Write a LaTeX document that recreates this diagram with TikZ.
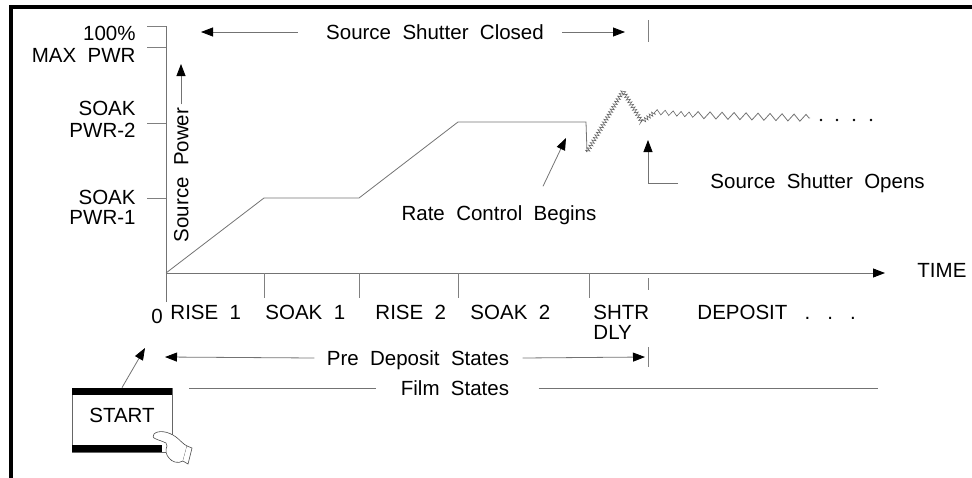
\documentclass[tikz,border=0pt]{standalone}
\usepackage{fontspec}
\setmainfont{Liberation Sans}
\usetikzlibrary{%
  arrows.meta,%
  decorations.pathmorphing,%
  positioning%
}

\begin{document}
\begin{tikzpicture}[
  x=1pt, y=-1pt,
  font=\fontsize{20.5}{21}\selectfont,
  >={Triangle[length=12pt,width=9pt,color=black]},
  line width=0.9pt,
  axis/.style={draw=black!55, line width=0.9pt},
  tickmark/.style={draw=black!50, line width=0.9pt},
  trace/.style={draw=black!55, line width=0.8pt},
  noisy/.style={draw=black!60, line width=0.6pt, decorate},
  lbl/.style={inner sep=0pt, text height=14.5pt, text depth=0pt},
  startbox/.style={rectangle, draw=black!60, line width=0.8pt, minimum width=100pt, minimum height=64pt, inner sep=0pt},
  hand/.style={draw=black!70, fill=white, line width=0.6pt}
]

\useasboundingbox (0,0) rectangle (972,477);
\draw[line width=3.5pt] (11,480) -- (11,7) -- (975,7);

\coordinate (O) at (166,273);
\draw[axis] (166,302) -- (166,26);
\draw[axis,->] (O) -- (885,273);
\node[lbl, anchor=west] (time) at (917,270) {TIME};

\foreach \y in {26,47,123,198} {
  \draw[tickmark] (147,\y) -- (166,\y);
}
\foreach \x in {264,359,458,589} {
  \draw[tickmark] (\x,273) -- (\x,298);
}
\draw[tickmark] (648,278) -- (648,290);
\draw[tickmark] (648,20) -- (648,42);
\draw[tickmark] (648,347) -- (648,367);

\node[lbl, anchor=east] (p100) at (136,33) {100\%};
\node[lbl, anchor=east] (pmax) at (136,55) {MAX~~PWR};
\node[lbl, anchor=east] (soak2a) at (136,108) {SOAK};
\node[lbl, anchor=east] (soak2b) at (136,130) {PWR-2};
\node[lbl, anchor=east] (soak1a) at (136,197) {SOAK};
\node[lbl, anchor=east] (soak1b) at (136,217) {PWR-1};

\node[lbl, rotate=90] (spwr) at (181,175) {Source~~Power};
\coordinate (spwrtip) at (181,64);
\draw[trace,->] ([yshift=3pt]spwr.east) -- (spwrtip);

\node[lbl] (ssc) at (435,32) {Source~~Shutter~~Closed};
\coordinate (sscL) at (201,32);
\coordinate (sscR) at (625,32);
\draw[trace,->] ([xshift=-28pt]ssc.west) -- (sscL);
\draw[trace,->] ([xshift=18pt]ssc.east) -- (sscR);

\draw[trace] (O) -- (264,198) -- (359,198) -- (458,122) -- (586,122) -- (587,152);
\draw[noisy, decoration={zigzag, segment length=3pt, amplitude=2pt}]
  (587,152) -- (623,91) -- (642,122) -- (655,112);
\draw[noisy, decoration={zigzag, segment length=8pt, amplitude=2.5pt}]
  (655,112) -- (695,115);
\draw[trace, decorate, decoration={zigzag, segment length=12pt, amplitude=3.5pt}]
  (695,115) -- (810,118);
\foreach \x in {821,837,854,871} {
  \fill (\x,120) circle (1.3pt);
}

\node[lbl] (rcb) at (499,213) {Rate~~Control~~Begins};
\coordinate (rcbtip) at (566,138);
\draw[trace,->] ([xshift=44pt, yshift=19pt]rcb.north) -- (rcbtip);

\node[lbl, anchor=west] (sso) at (710,181) {Source~~Shutter~~Opens};
\coordinate (ssocorner) at (648,183);
\coordinate (ssotip) at (648,140);
\draw[trace,->] ([xshift=-32pt, yshift=-2pt]sso.west) -- (ssocorner) -- (ssotip);

\node[lbl] (zero) at (157,316) {0};
\foreach \x/\name/\txt in {170/rise1/RISE~~1, 265/soak1/SOAK~~1, 375/rise2/RISE~~2, 470/soak2/SOAK~~2, 697/dep/DEPOSIT~~~.~~~.~~~.} {
  \node[lbl, anchor=west] (\name) at (\x,312) {\txt};
}
\node[lbl, anchor=west] (shtr) at (593,312) {SHTR};
\node[lbl, anchor=west] (dly) at (593,332) {DLY};

\node[lbl] (pds) at (418,358) {Pre~~Deposit~~States};
\coordinate (pdsL) at (165,357);
\coordinate (pdsR) at (645,357);
\draw[trace,->] ([xshift=-12pt]pds.west) -- (pdsL);
\draw[trace,->] ([xshift=13pt]pds.east) -- (pdsR);

\node[lbl] (fs) at (455,388) {Film~~States};
\coordinate (fsL) at (189,388);
\coordinate (fsR) at (878,388);
\draw[trace] (fsL) -- ([xshift=-24pt]fs.west);
\draw[trace] ([xshift=29pt]fs.east) -- (fsR);

\node[startbox] (start) at (122,420) {};
\node[lbl] (starttxt) at ([yshift=5pt]start.center) {START};
\fill (start.north west) rectangle ([yshift=-7pt]start.north east);
\fill (start.south west) rectangle ([xshift=-10pt, yshift=7pt]start.south east);
\coordinate (starttip) at (145,348);
\draw[trace,->] (start.north) -- (starttip);

\draw[hand] (154,434) .. controls (158,430) and (168,431) .. (176,437)
  .. controls (180,440) and (183,444) .. (187,446) -- (183,461)
  .. controls (178,464) and (172,462) .. (169,458)
  .. controls (166,455) and (165,450) .. (167,446)
  -- (166,443) .. controls (162,441) and (158,440) .. (156,439)
  .. controls (153,438) and (152,436) .. (154,434) -- cycle;
\draw[hand] (187,446) -- (192,448) -- (188,464) -- (183,461);

\end{tikzpicture}
\end{document}
